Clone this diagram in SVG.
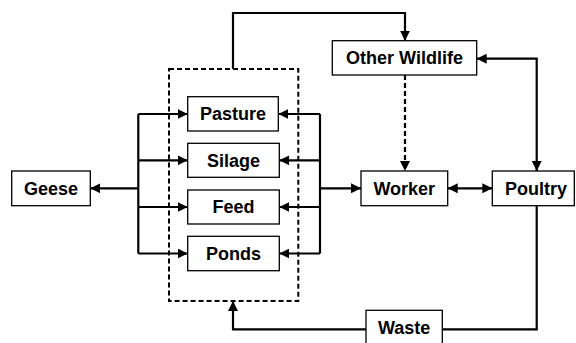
<svg xmlns="http://www.w3.org/2000/svg" width="576" height="343" viewBox="0 0 576 343">
<defs>
<style>
.box{fill:#fff;stroke:#000;stroke-width:1.3}
.lbl{font-family:"Liberation Sans",Arial,sans-serif;font-weight:bold;font-size:18px;text-anchor:middle;fill:#000}
.c{fill:none;stroke:#000;stroke-width:2.2}
.d{fill:none;stroke:#000;stroke-width:2.2;stroke-dasharray:5 3}
.grp{fill:none;stroke:#000;stroke-width:2;stroke-dasharray:5 3}
</style>
<marker id="ah" markerUnits="userSpaceOnUse" markerWidth="11" markerHeight="10" refX="10" refY="5" orient="auto-start-reverse">
<path d="M0,0 L10,5 L0,10 z" fill="#000"/>
</marker>
</defs>
<rect x="0" y="0" width="576" height="343" fill="#fff"/>
<g id="group-box">
<rect class="grp" x="169" y="69" width="129.3" height="232"/>
</g>
<g id="connectors">
<path class="c" d="M233,69 V13 H405 V40.7" marker-end="url(#ah)"/>
<path class="c" d="M138.3,114 V253.5"/>
<path class="c" d="M138.3,114 H187.7" marker-end="url(#ah)"/>
<path class="c" d="M138.3,160.3 H187.7" marker-end="url(#ah)"/>
<path class="c" d="M138.3,207 H187.7" marker-end="url(#ah)"/>
<path class="c" d="M138.3,253.5 H187.7" marker-end="url(#ah)"/>
<path class="c" d="M138.3,188.3 H90.3" marker-end="url(#ah)"/>
<path class="c" d="M320,114 V253.5"/>
<path class="c" d="M320,114 H278.3" marker-end="url(#ah)"/>
<path class="c" d="M320,160.3 H279.3" marker-end="url(#ah)"/>
<path class="c" d="M320,207 H279.3" marker-end="url(#ah)"/>
<path class="c" d="M320,253.5 H279.3" marker-end="url(#ah)"/>
<path class="c" d="M320,188.3 H361" marker-end="url(#ah)"/>
<path class="d" d="M405,75 V171" marker-end="url(#ah)"/>
<path class="c" d="M476.7,58.7 H536.7 V171" marker-start="url(#ah)" marker-end="url(#ah)"/>
<path class="c" d="M447.7,188.3 H492.3" marker-start="url(#ah)" marker-end="url(#ah)"/>
<path class="c" d="M536.7,205.7 V329.3 H442.3"/>
<path class="c" d="M366,329.3 H233 V301" marker-end="url(#ah)"/>
</g>
<g id="pasture"><rect class="box" x="187.7" y="96.7" width="90.6" height="34.3"/><text class="lbl" x="233" y="120.3">Pasture</text></g>
<g id="silage"><rect class="box" x="187.7" y="143.3" width="91.6" height="34"/><text class="lbl" x="233.5" y="166.7">Silage</text></g>
<g id="feed"><rect class="box" x="187.7" y="190" width="91.6" height="34"/><text class="lbl" x="233.5" y="213.4">Feed</text></g>
<g id="ponds"><rect class="box" x="187.7" y="236.3" width="91.6" height="34.4"/><text class="lbl" x="233.5" y="259.9">Ponds</text></g>
<g id="geese"><rect class="box" x="11.7" y="171" width="78.6" height="34.7"/><text class="lbl" x="51" y="194.7">Geese</text></g>
<g id="other-wildlife"><rect class="box" x="332.3" y="40.7" width="144.4" height="34.3"/><text class="lbl" x="404.5" y="64.3">Other Wildlife</text></g>
<g id="worker"><rect class="box" x="361" y="171" width="86.7" height="34.7"/><text class="lbl" x="404.3" y="194.7">Worker</text></g>
<g id="poultry"><rect class="box" x="492.3" y="171" width="82" height="34.7"/><text class="lbl" x="536" y="194.7">Poultry</text></g>
<g id="waste"><rect class="box" x="366" y="310.3" width="76.3" height="36"/><text class="lbl" x="404.2" y="334">Waste</text></g>
</svg>
